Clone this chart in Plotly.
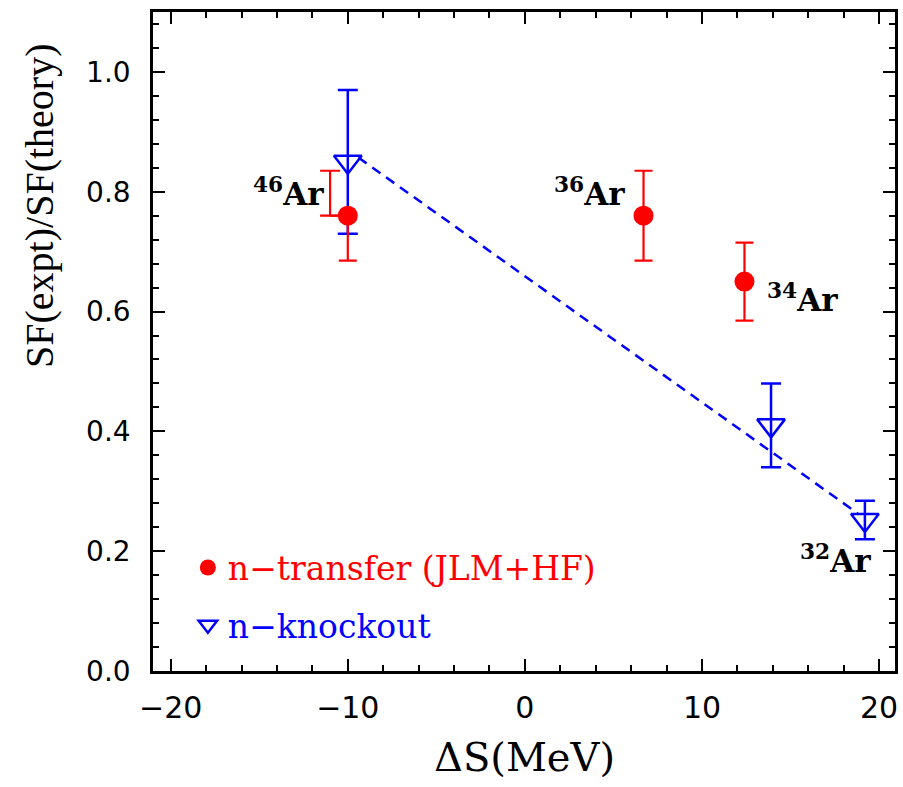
import plotly.graph_objects as go

# ---- data ----
transfer_x = [-10.0, 6.7, 12.4]
transfer_y = [0.76, 0.76, 0.65]
transfer_err = [0.075, 0.075, 0.065]

knockout_x = [-10.0, 13.9, 19.2]
knockout_y = [0.85, 0.41, 0.252]
knockout_err = [0.12, 0.07, 0.032]

fit_x = [-9.4, 18.8]
fit_y = [0.857, 0.263]

label_texts = ["<sup>46</sup>Ar", "<sup>36</sup>Ar", "<sup>34</sup>Ar", "<sup>32</sup>Ar"]

x_ticks = [-20, -10, 0, 10, 20]
y_ticks = [0.0, 0.2, 0.4, 0.6, 0.8, 1.0]

RED = "rgb(255,0,0)"
BLUE = "rgb(0,0,255)"

# the 46Ar transfer point has its upper error drawn offset to the left
offset_idx = 0
offset_dx = -1.0
plus_err = [0.0 if i == offset_idx else e for i, e in enumerate(transfer_err)]

fig = go.Figure()

fig.add_trace(go.Scatter(
    x=fit_x, y=fit_y, mode="lines",
    line=dict(color=BLUE, width=2.5, dash="10px,7px"),
    showlegend=False, hoverinfo="skip"))

fig.add_trace(go.Scatter(
    x=knockout_x, y=knockout_y, mode="markers",
    name="<span style='color:rgb(0,0,255)'>n−knockout</span>",
    marker=dict(symbol="triangle-down-open", size=24, color=BLUE,
                line=dict(color=BLUE, width=2.5)),
    error_y=dict(type="data", array=knockout_err, color=BLUE,
                 thickness=2.5, width=10),
    legend="legend2"))

# offset bracket for the upper error of the 46Ar transfer point
ox = transfer_x[offset_idx] + offset_dx
oy = transfer_y[offset_idx]
fig.add_trace(go.Scatter(
    x=[ox, transfer_x[offset_idx]], y=[oy, oy], mode="lines",
    line=dict(color=RED, width=2.2), showlegend=False, hoverinfo="skip"))
fig.add_trace(go.Scatter(
    x=[ox], y=[oy], mode="markers",
    marker=dict(size=1, color="rgba(0,0,0,0)"),
    error_y=dict(type="data", symmetric=False,
                 array=[transfer_err[offset_idx]], arrayminus=[0],
                 color=RED, thickness=2.2, width=10),
    showlegend=False, hoverinfo="skip"))

fig.add_trace(go.Scatter(
    x=transfer_x, y=transfer_y, mode="markers",
    name="<span style='color:rgb(255,0,0)'>n−transfer (JLM+HF)</span>",
    marker=dict(symbol="circle", size=20, color=RED),
    error_y=dict(type="data", symmetric=False, array=plus_err,
                 arrayminus=transfer_err, color=RED, thickness=2.2, width=9),
    legend="legend"))

label_pos = [
    dict(x=-11.24, y=0.80, xanchor="right"),
    dict(x=5.79, y=0.80, xanchor="right"),
    dict(x=13.54, y=0.622, xanchor="left"),
    dict(x=19.65, y=0.187, xanchor="right"),
]
for t, p in zip(label_texts, label_pos):
    fig.add_annotation(text=t, x=p["x"], y=p["y"], xref="x", yref="y",
                       xanchor=p["xanchor"], yanchor="middle", showarrow=False,
                       font=dict(family="DejaVu Serif", size=31, color="black",
                                 weight="bold"))

# axis titles
fig.add_annotation(text="SF(expt)/SF(theory)", xref="paper", yref="paper",
                   x=-0.152, y=0.706, xanchor="center", yanchor="middle",
                   textangle=-90, showarrow=False,
                   font=dict(family="Liberation Serif", size=40, color="black"))
fig.add_annotation(text="ΔS(MeV)", xref="paper", yref="paper",
                   x=0.5007, y=-0.092, xanchor="center", yanchor="top",
                   showarrow=False,
                   font=dict(family="DejaVu Serif", size=40, color="black"))

axis_common = dict(
    showgrid=False, zeroline=False, showline=True, linecolor="black",
    linewidth=2.5, mirror="ticks", ticks="inside", ticklen=12, tickwidth=2,
    tickcolor="black",
)

fig.update_xaxes(
    range=[-21.0, 20.9], tickvals=x_ticks,
    tickfont=dict(family="DejaVu Sans", size=30, color="black"),
    minor=dict(dtick=2, tick0=0, ticks="inside", ticklen=6, tickwidth=2,
               tickcolor="black", showgrid=False),
    ticklabelstandoff=8,
    **axis_common)
fig.update_yaxes(
    range=[0, 1.1], tickvals=y_ticks, tickformat=".1f",
    tickfont=dict(family="DejaVu Sans", size=28, color="black"),
    minor=dict(dtick=0.04, tick0=0, ticks="inside", ticklen=6, tickwidth=2,
               tickcolor="black", showgrid=False),
    ticklabelstandoff=14,
    **axis_common)

legend_font = dict(family="DejaVu Serif", size=33, color="black")
fig.update_layout(
    width=903, height=787,
    margin=dict(l=153, r=5, t=12, b=116),
    paper_bgcolor="white", plot_bgcolor="white",
    legend=dict(x=0.047, y=0.157, xref="paper", yref="paper",
                xanchor="left", yanchor="middle", font=legend_font,
                bgcolor="rgba(0,0,0,0)", borderwidth=0),
    legend2=dict(x=0.047, y=0.07, xref="paper", yref="paper",
                 xanchor="left", yanchor="middle", font=legend_font,
                 bgcolor="rgba(0,0,0,0)", borderwidth=0),
)

fig.write_html("out.html")
